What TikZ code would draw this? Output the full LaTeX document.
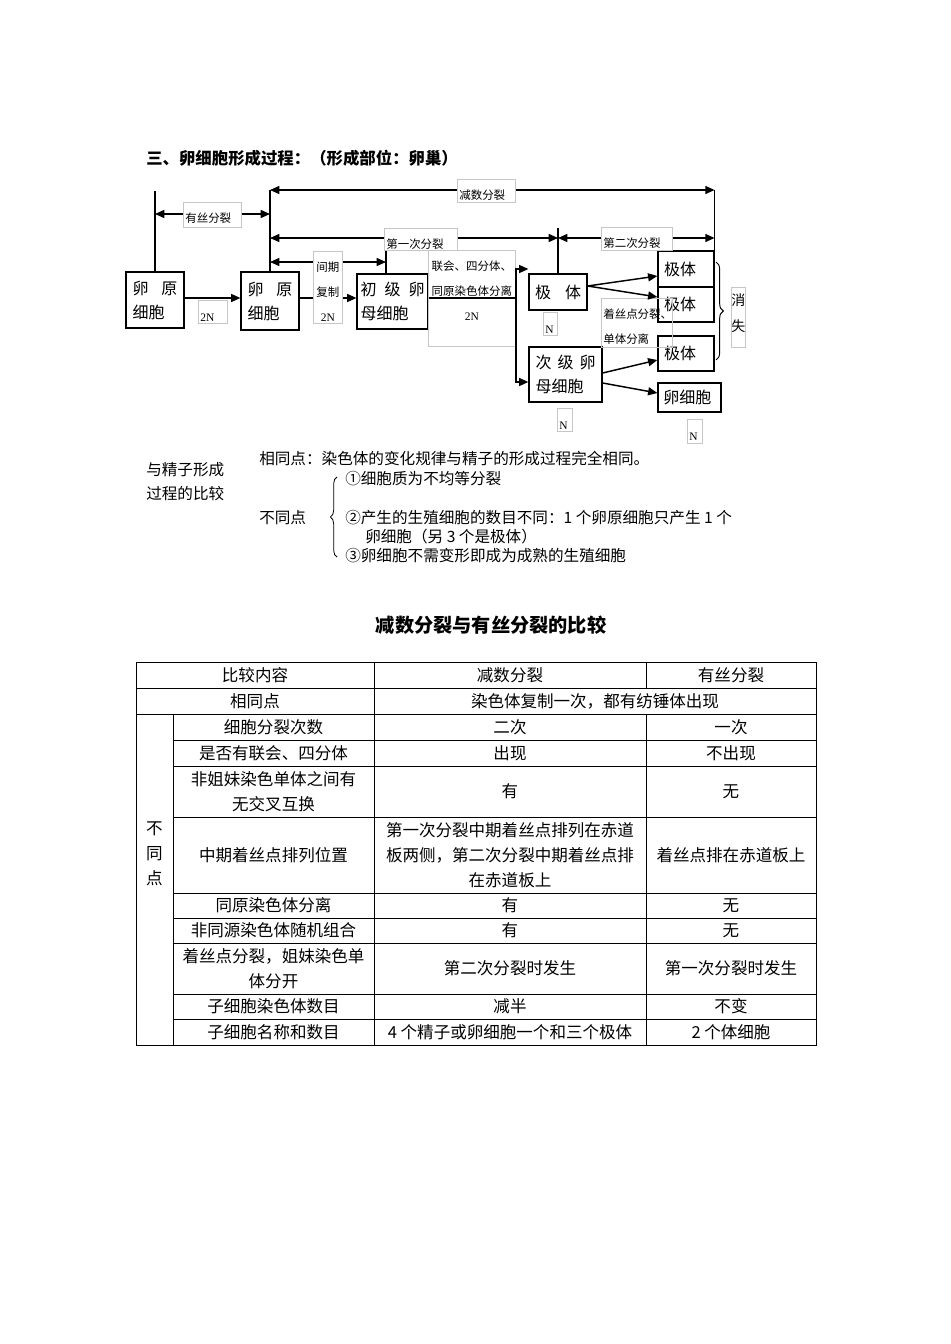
\documentclass[tikz,border=0pt]{standalone}
\usepackage{fontspec}
\setmainfont{Noto Sans CJK SC}
\newfontfamily\numfont{Liberation Serif}
\usetikzlibrary{arrows.meta,decorations.pathreplacing}
\newcommand{\headfont}{\fontsize{12.3}{15}\selectfont\bfseries}
\newcommand{\tabtitlefont}{\fontsize{14.4}{18}\selectfont\bfseries}
\newcommand{\cellfont}{\fontsize{12}{18}\selectfont}
\newcommand{\lblfont}{\fontsize{8.6}{18.5}\selectfont}
\newcommand{\gonefont}{\fontsize{10.5}{19.5}\selectfont}
\newcommand{\txtfont}{\fontsize{11.7}{19}\selectfont}
\newcommand{\tabfont}{\fontsize{12.4}{18.75}\selectfont}
\newcommand{\lbltop}{\rule{0pt}{15.5pt}}

\begin{document}
\begin{tikzpicture}[x=0.75pt,y=-0.75pt,>={Triangle[length=7pt,width=6pt]},
  cell/.style={draw,line width=0.9pt,align=left,font=\cellfont,inner ysep=0pt},
  lbl/.style={draw=gray!45,line width=0.5pt,fill=white,anchor=north west,font=\lblfont,inner xsep=1.5pt,inner ysep=0pt,align=left},
  conn/.style={line width=1.1pt},
  txt/.style={anchor=west,inner sep=0pt,font=\txtfont},
  tab/.style={inner sep=0pt,align=center,font=\tabfont},
  grid/.style={line width=0.7pt}]
\useasboundingbox (0,0) rectangle (950,1344);

\node [anchor=west,inner sep=0pt,font=\headfont] (title) at (146,158) {三、卵细胞形成过程：（形成部位：卵巢）};

\node [cell,text width=33.5pt,inner xsep=5pt,minimum height=42pt] (oogonia1) at (155,300) {卵\hfill 原\\细胞};
\node [cell,text width=33.5pt,inner xsep=5pt,minimum height=43.5pt] (oogonia2) at (270,301) {卵\hfill 原\\细胞};
\node [cell,text width=48pt,inner xsep=2.6pt,minimum height=41.25pt] (primary) at (392.5,301.5) {初\hfill 级\hfill 卵\\母细胞};
\node [cell,text width=34.5pt,inner xsep=4.5pt,minimum height=27pt] (polar1) at (558,292) {极\hfill 体};
\node [cell,text width=45pt,inner xsep=4.9pt,minimum height=41.25pt] (secondary) at (565.5,374.5) {次\hfill 级\hfill 卵\\母细胞};
\node [cell,text width=33pt,inner xsep=4.5pt,minimum height=27pt] (polar2a) at (686,269) {极体};
\node [cell,text width=33pt,inner xsep=4.5pt,minimum height=26.25pt] (polar2b) at (686,304.5) {极体};
\node [cell,text width=33pt,inner xsep=4.5pt,minimum height=26.25pt] (polar2c) at (686,353.5) {极体};
\node [cell,text width=39.25pt,inner xsep=4pt,minimum height=21.75pt] (ovum) at (689.5,397.5) {卵细胞};

\coordinate (meiITop) at (386,250);
\coordinate (fork) at (516,298);

\draw [conn] (oogonia1.north)--(oogonia1.north |- 0,191);
\draw [conn] (oogonia2.north)--(oogonia2.north |- 0,190);
\draw [conn] (primary.north -| meiITop)--(meiITop);
\draw [conn] (polar1.north)--(polar1.north |- 0,228);
\draw [conn] (polar2a.north east)--(polar2a.north east |- 0,190);
\draw [conn, <->] (oogonia1.north |- 0,214)--(oogonia2.north |- 0,214);
\draw [conn, <->] (oogonia2.north |- 0,190)--(polar2a.north east |- 0,190);
\draw [conn, <->] (oogonia2.north |- 0,238)--(polar1.north |- 0,238);
\draw [conn, <->] (polar1.north |- 0,238)--(polar2a.north east |- 0,238);
\draw [conn, <->] (oogonia2.north |- 0,262)--(meiITop |- 0,262);
\draw [conn, ->] (oogonia1.east |- 0,298)--(oogonia2.west |- 0,298);
\draw [conn, ->] (oogonia2.east |- 0,298)--(primary.west |- 0,298);

\node [lbl,text width=40.5pt,text depth=3.25pt] (lblMit) at (183,202) {\lbltop 有丝分裂};
\node [lbl,text width=40.5pt,text depth=1.75pt] (lblMei) at (457,179) {\lbltop 减数分裂};
\node [lbl,text width=51.75pt,text depth=1pt] (lblMeiI) at (384,228) {\lbltop 第一次分裂};
\node [lbl,text width=18.75pt,text depth=38.5pt,align=center] (lblInter) at (313,251) {\lbltop 间期\\复制\\{\numfont 2N}};
\node [lbl,fill=none,text width=62.25pt,text depth=56.5pt,align=center] (lblSyn) at (428,250) {\lbltop 联会、四分体、\\同原染色体分离\\{\numfont 2N}};
\node [lbl,text width=50.25pt,text depth=1.75pt] (lblMeiII) at (601,227) {\lbltop 第二次分裂};
\node [lbl,fill=none,text width=50.25pt,text depth=21.25pt] (lblCent) at (601,298) {\lbltop 着丝点分裂、\\单体分离};
\node [lbl,text width=18.75pt,text depth=1.75pt] (ploidyA) at (198,300) {\lbltop{\numfont 2N}};
\node [lbl,text width=7.5pt,text depth=1.75pt] (ploidyB) at (543,312) {\lbltop{\numfont N}};
\node [lbl,text width=8.25pt,text depth=1.75pt] (ploidyC) at (557,408) {\lbltop{\numfont N}};
\node [lbl,text width=8.25pt,text depth=2.5pt] (ploidyD) at (687,419) {\lbltop{\numfont N}};
\node [lbl,text width=10.5pt,inner xsep=0pt,font=\gonefont,text depth=31.3pt,align=center] (lblGone) at (731,287) {\rule{0pt}{13.7pt}消\\失};

\draw [conn] (primary.east |- 0,298)--(fork);
\draw [conn, ->] (fork) |- (polar1.west |- 0,269);
\draw [conn, ->] (fork) |- (secondary.west |- 0,382);
\draw [conn, ->] (polar1.east |- 0,286)--(polar2a.west |- 0,276);
\draw [conn, ->] (polar1.east |- 0,286)--(polar2b.west |- 0,297);
\draw [conn, ->] (secondary.east |- 0,373)--(polar2c.west |- 0,360);
\draw [conn, ->] (secondary.east |- 0,383)--(ovum.west |- 0,393);
\draw [line width=0.7pt, decorate, decoration={brace,amplitude=5.5pt}] (716,262)--(716,360);

\node [txt] (cmpA) at (146,470) {与精子形成};
\node [txt] (cmpB) at (146,494) {过程的比较};
\node [txt] (same) at (259,459) {相同点：染色体的变化规律与精子的形成过程完全相同。};
\node [txt] (diff) at (259,518) {不同点};
\node [txt] (diffA) at (345,479) {①细胞质为不均等分裂};
\node [txt] (diffB) at (345,518) {②产生的生殖细胞的数目不同：1 个卵原细胞只产生 1 个};
\node [txt] (diffBb) at (365,537) {卵细胞（另 3 个是极体）};
\node [txt] (diffC) at (345,556) {③卵细胞不需变形即成为成熟的生殖细胞};
\draw [line width=0.6pt, decorate, decoration={brace,amplitude=5pt}] (337,557)--(337,477);

\node [inner sep=0pt,font=\tabtitlefont] (tabTitle) at (491,625) {减数分裂与有丝分裂的比较};

\draw [grid] (136,662) rectangle (816,1045);
\draw [grid] (136,688)--(816,688);
\draw [grid] (136,714)--(816,714);
\foreach \y in {740,766,817,893,918,943,994,1019}
  \draw [grid] (173,\y)--(816,\y);
\draw [grid] (173,714)--(173,1045);
\draw [grid] (374,662)--(374,1045);
\draw [grid] (646,662)--(646,688);
\draw [grid] (646,714)--(646,1045);

\node [tab] (hdItem) at (255,675) {比较内容};
\node [tab] (hdMei) at (510,675) {减数分裂};
\node [tab] (hdMit) at (731,675) {有丝分裂};
\node [tab] (sameItem) at (255,701) {相同点};
\node [tab] (sameText) at (595,701) {染色体复制一次，都有纺锤体出现};
\node [tab] (diffCol) at (154.5,854) {不\\同\\点};

\node [tab] (rowAi) at (273.5,727) {细胞分裂次数};
\node [tab] (rowAm) at (510,727) {二次};
\node [tab] (rowAt) at (731,727) {一次};
\node [tab] (rowBi) at (273.5,753) {是否有联会、四分体};
\node [tab] (rowBm) at (510,753) {出现};
\node [tab] (rowBt) at (731,753) {不出现};
\node [tab] (rowCi) at (273.5,791.5) {非姐妹染色单体之间有\\无交叉互换};
\node [tab] (rowCm) at (510,791.5) {有};
\node [tab] (rowCt) at (731,791.5) {无};
\node [tab] (rowDi) at (273.5,855) {中期着丝点排列位置};
\node [tab] (rowDm) at (510,855) {第一次分裂中期着丝点排列在赤道\\板两侧，第二次分裂中期着丝点排\\在赤道板上};
\node [tab] (rowDt) at (731,855) {着丝点排在赤道板上};
\node [tab] (rowEi) at (273.5,905.5) {同原染色体分离};
\node [tab] (rowEm) at (510,905.5) {有};
\node [tab] (rowEt) at (731,905.5) {无};
\node [tab] (rowFi) at (273.5,930.5) {非同源染色体随机组合};
\node [tab] (rowFm) at (510,930.5) {有};
\node [tab] (rowFt) at (731,930.5) {无};
\node [tab] (rowGi) at (273.5,968.5) {着丝点分裂，姐妹染色单\\体分开};
\node [tab] (rowGm) at (510,968.5) {第二次分裂时发生};
\node [tab] (rowGt) at (731,968.5) {第一次分裂时发生};
\node [tab] (rowHi) at (273.5,1006.5) {子细胞染色体数目};
\node [tab] (rowHm) at (510,1006.5) {减半};
\node [tab] (rowHt) at (731,1006.5) {不变};
\node [tab] (rowIi) at (273.5,1032) {子细胞名称和数目};
\node [tab] (rowIm) at (510,1032) {4 个精子或卵细胞一个和三个极体};
\node [tab] (rowIt) at (731,1032) {2 个体细胞};
\end{tikzpicture}
\end{document}
